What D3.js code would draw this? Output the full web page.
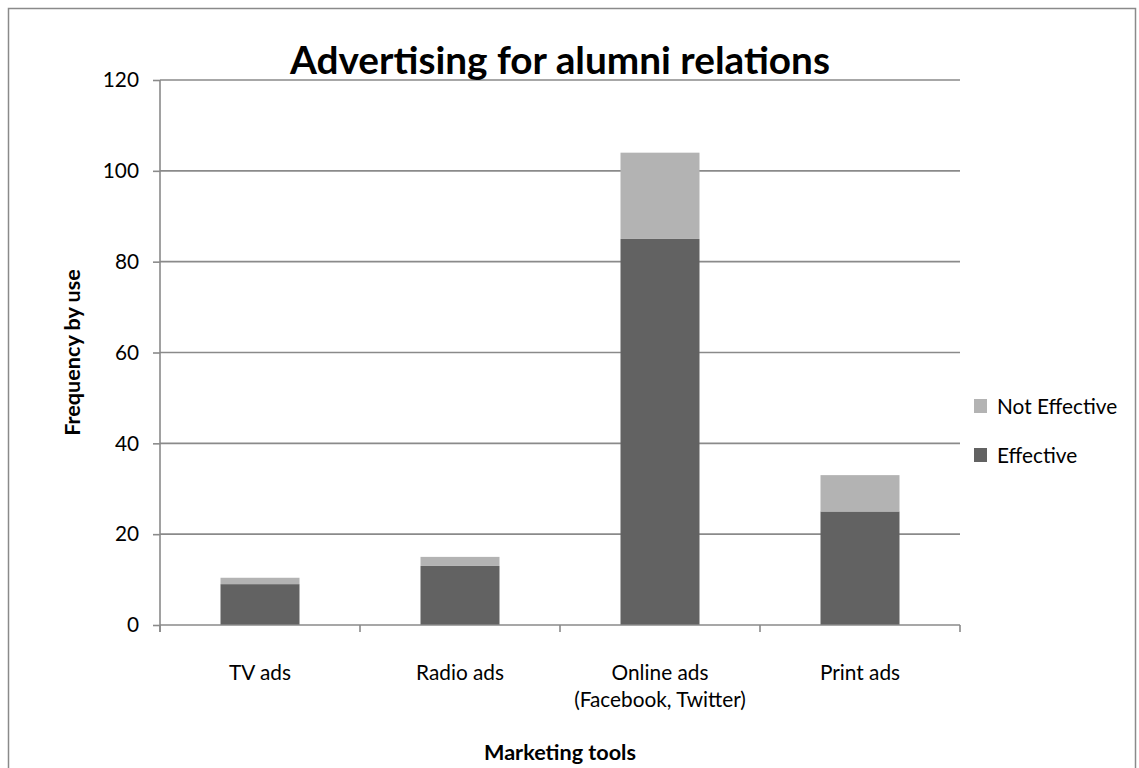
<!DOCTYPE html>
<html>
<head>
<meta charset="utf-8">
<script src="https://cdn.jsdelivr.net/npm/d3@7"></script>
<style>
  html, body { margin: 0; padding: 0; background: #ffffff; }
  svg { display: block; font-family: Lato, "Open Sans", sans-serif; }
</style>
</head>
<body>
<svg id="chart" width="1139" height="768"></svg>
<script>
// ---- data ----
const categories = [["TV ads"], ["Radio ads"], ["Online ads", "(Facebook, Twitter)"], ["Print ads"]];
const effective = [9, 13, 85, 25];
const notEffective = [1.4, 2, 19, 8];
const seriesNames = ["Effective", "Not Effective"];
const seriesColors = ["#626262", "#b3b3b3"];
const yTicks = [0, 20, 40, 60, 80, 100, 120];
const chartTitle = "Advertising for alumni relations";
const xTitle = "Marketing tools";
const yTitle = "Frequency by use";

// ---- layout ----
const W = 1139, H = 768;
const plot = { left: 160, right: 960, top: 80, bottom: 625 };
const axisColor = "#8a8a8a";
const lineW = 1.6;

const svg = d3.select("#chart");

// outer frame
svg.append("rect")
  .attr("x", 8.5).attr("y", 8.5)
  .attr("width", W - 12).attr("height", H + 20)
  .attr("fill", "#fff").attr("stroke", "#8a8a8a").attr("stroke-width", 1.5);

// helper: fit font size so that text reaches a target width
function fitSize(text, weight, targetWidth) {
  const t = svg.append("text").attr("font-size", 100).attr("font-weight", weight).text(text);
  const w = t.node().getComputedTextLength();
  t.remove();
  return 100 * targetWidth / w;
}
const regSize = fitSize("Radio ads", "normal", 88);
const boldSize = fitSize(xTitle, "bold", 152);
const titleSize = fitSize(chartTitle, "bold", 540);

const idx = d3.range(categories.length);
const x = d3.scaleBand().domain(idx).range([plot.left, plot.right]).paddingInner(0).paddingOuter(0);
const y = d3.scaleLinear().domain([0, 120]).range([plot.bottom, plot.top]);

// gridlines
svg.append("g").selectAll("line")
  .data(yTicks.filter(d => d > 0))
  .join("line")
  .attr("x1", plot.left).attr("x2", plot.right)
  .attr("y1", d => y(d)).attr("y2", d => y(d))
  .attr("stroke", axisColor).attr("stroke-width", lineW);

// stacked bars
const stackData = idx.map(i => ({ i, Effective: effective[i], "Not Effective": notEffective[i] }));
const stack = d3.stack().keys(seriesNames)(stackData);
const barW = 79;
svg.append("g").selectAll("g")
  .data(stack)
  .join("g")
  .attr("fill", (d, k) => seriesColors[k])
  .selectAll("rect")
  .data(d => d)
  .join("rect")
  .attr("x", d => x(d.data.i) + x.bandwidth() / 2 - barW / 2)
  .attr("width", barW)
  .attr("y", d => y(d[1]))
  .attr("height", d => y(d[0]) - y(d[1]));

// y axis
const yAxis = d3.axisLeft(y).tickValues(yTicks).tickSize(7).tickPadding(14).tickFormat(d3.format("d"));
const gy = svg.append("g").attr("transform", `translate(${plot.left},0)`).call(yAxis);
gy.select(".domain").attr("stroke", axisColor).attr("stroke-width", lineW).attr("d", `M0,${plot.top}V${plot.bottom + 7}`);
gy.selectAll(".tick line").attr("stroke", axisColor).attr("stroke-width", lineW);
gy.selectAll(".tick text").attr("font-size", regSize).attr("font-family", "Lato, sans-serif").attr("fill", "#000");

// x axis
const xAxis = d3.axisBottom(x).tickSize(0).tickFormat(() => "");
const gx = svg.append("g").attr("transform", `translate(0,${plot.bottom})`).call(xAxis);
gx.select(".domain").attr("stroke", axisColor).attr("stroke-width", lineW).attr("d", `M${plot.left},0H${plot.right}`);
gx.selectAll(".tick").remove();
// category boundary tick marks
const boundaries = idx.map(i => x(i)).concat([plot.right]);
gx.selectAll("line.bt").data(boundaries).join("line")
  .attr("class", "bt")
  .attr("x1", d => d).attr("x2", d => d)
  .attr("y1", 0).attr("y2", 7)
  .attr("stroke", axisColor).attr("stroke-width", lineW);

// category labels
const lab = svg.append("g").selectAll("text")
  .data(idx)
  .join("text")
  .attr("text-anchor", "middle")
  .attr("font-size", regSize)
  .attr("fill", "#000")
  .attr("transform", i => `translate(${x(i) + x.bandwidth() / 2},680)`);
lab.selectAll("tspan").data(i => categories[i]).join("tspan")
  .attr("x", 0).attr("dy", (d, k) => k === 0 ? 0 : 27).text(d => d);

// axis titles
svg.append("text").attr("x", (plot.left + plot.right) / 2).attr("y", 760)
  .attr("text-anchor", "middle").attr("font-weight", "bold").attr("font-size", boldSize)
  .text(xTitle);
svg.append("text")
  .attr("transform", `translate(80,${(plot.top + plot.bottom) / 2}) rotate(-90)`)
  .attr("text-anchor", "middle").attr("font-weight", "bold").attr("font-size", boldSize)
  .text(yTitle);

// chart title
svg.append("text").attr("x", 560).attr("y", 74)
  .attr("text-anchor", "middle").attr("font-weight", "bold").attr("font-size", titleSize)
  .text(chartTitle);

// legend (reverse order: Not Effective on top)
const legendItems = [1, 0];
const lg = svg.append("g").selectAll("g").data(legendItems).join("g")
  .attr("transform", (k, j) => `translate(974,${399 + j * 49})`);
lg.append("rect").attr("width", 13).attr("height", 14).attr("fill", k => seriesColors[k]);
lg.append("text").attr("x", 23).attr("y", 7).attr("dy", "0.36em")
  .attr("font-size", regSize).attr("fill", "#000").text(k => seriesNames[k]);
</script>
</body>
</html>
